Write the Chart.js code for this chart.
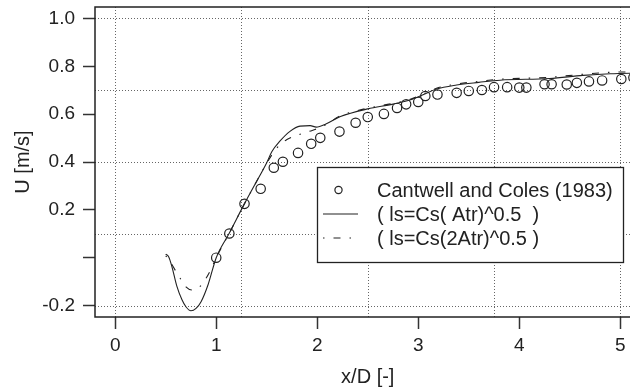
<!DOCTYPE html>
<html>
<head>
<meta charset="utf-8">
<script src="https://cdn.jsdelivr.net/npm/chart.js@4.4.0/dist/chart.umd.min.js"></script>
<style>
    html, body { margin: 0; padding: 0; background: #fff; overflow: hidden; }
    #wrap { width: 648px; height: 388px; }
</style>
</head>
<body>
<div id="wrap"><canvas id="chart" width="648" height="388"></canvas></div>
<script>
// Cantwell and Coles (1983) measurements
const expX = [1.00, 1.13, 1.28, 1.44, 1.57, 1.66, 1.81, 1.94, 2.03, 2.22, 2.38, 2.50, 2.66, 2.79, 2.88, 3.00, 3.07,
    3.19, 3.38, 3.50, 3.63, 3.75, 3.88, 4.00, 4.07, 4.25, 4.32, 4.47, 4.57, 4.69, 4.82, 5.01, 5.13];
const expY = [0.000, 0.101, 0.225, 0.288, 0.376, 0.401, 0.438, 0.476, 0.501, 0.527, 0.564, 0.588, 0.601, 0.626, 0.641,
    0.651, 0.676, 0.682, 0.689, 0.697, 0.701, 0.713, 0.713, 0.711, 0.711, 0.725, 0.725, 0.724, 0.731, 0.737, 0.741,
    0.747, 0.753];

// ( ls=Cs( Atr)^0.5 )
const solX = [0.50, 0.53, 0.56, 0.61, 0.66, 0.70, 0.75, 0.80, 0.85, 0.92, 1.00, 1.13, 1.28, 1.38, 1.50, 1.55, 1.63,
    1.73, 1.83, 1.93, 1.99, 2.09, 2.23, 2.50, 2.75, 2.94, 3.07, 3.18, 3.38, 3.60, 3.81, 4.30, 4.63, 4.90, 5.20];
const solY = [0.015, 0.003, -0.035, -0.119, -0.175, -0.205, -0.222, -0.212, -0.184, -0.112, 0.000, 0.103, 0.226,
    0.304, 0.397, 0.443, 0.487, 0.528, 0.550, 0.552, 0.546, 0.560, 0.590, 0.622, 0.642, 0.662, 0.685, 0.705, 0.722,
    0.733, 0.742, 0.749, 0.762, 0.769, 0.772];

// ( ls=Cs(2Atr)^0.5 )
const ddX = [0.50, 0.53, 0.57, 0.64, 0.70, 0.76, 0.82, 0.87, 0.94, 1.00, 1.13, 1.28, 1.38, 1.50, 1.60, 1.70, 1.83,
    1.95, 2.05, 2.23, 2.50, 2.75, 2.94, 3.07, 3.18, 3.38, 3.60, 3.81, 4.30, 4.63, 4.90, 5.20];
const ddY = [0.008, -0.005, -0.035, -0.084, -0.122, -0.135, -0.128, -0.105, -0.055, 0.000, 0.103, 0.226, 0.303,
    0.395, 0.458, 0.494, 0.516, 0.532, 0.548, 0.593, 0.625, 0.645, 0.665, 0.688, 0.708, 0.726, 0.737, 0.746, 0.754,
    0.767, 0.775, 0.777];

const xTicks = [0, 1, 2, 3, 4, 5];
const yTicks = [-0.2, 0, 0.2, 0.4, 0.6, 0.8, 1.0];
const gridX = [0, 1.25, 2.5, 3.75, 5];
const gridY = [-0.2, 0.1, 0.4, 0.7, 1.0];

const labels = ['Cantwell and Coles (1983)', '( ls=Cs( Atr)^0.5  )', '( ls=Cs(2Atr)^0.5 )'];

const INK = '#222';
const toPoints = (xs, ys) => xs.map((x, i) => ({ x: x, y: ys[i] }));

Chart.defaults.font.family = '"Liberation Sans", Arial, Helvetica, sans-serif';
Chart.defaults.color = INK;

// dotted grid at its own positions, plot frame and boxed legend
const decorations = {
    id: 'decorations',
    beforeDatasetsDraw(chart) {
        const { ctx, chartArea: a, scales: { x, y } } = chart;
        ctx.save();
        ctx.strokeStyle = '#666';
        ctx.lineWidth = 1;
        ctx.setLineDash([1, 2]);
        gridX.forEach(v => {
            const px = Math.round(x.getPixelForValue(v)) + 0.5;
            ctx.beginPath();
            ctx.moveTo(px, a.top);
            ctx.lineTo(px, a.bottom);
            ctx.stroke();
        });
        gridY.forEach(v => {
            const py = Math.round(y.getPixelForValue(v)) + 0.5;
            ctx.beginPath();
            ctx.moveTo(a.left, py);
            ctx.lineTo(a.right, py);
            ctx.stroke();
        });
        ctx.restore();
    },
    afterDatasetsDraw(chart) {
        const { ctx, chartArea: a } = chart;
        const ds = chart.data.datasets;
        ctx.save();

        // frame
        ctx.strokeStyle = INK;
        ctx.lineWidth = 1.5;
        ctx.strokeRect(a.left, a.top, a.right - a.left, a.bottom - a.top);

        // legend box
        const box = { left: 317.5, top: 167.5, right: 623.5, bottom: 262.5 };
        ctx.fillStyle = '#fff';
        ctx.fillRect(box.left, box.top, box.right - box.left, box.bottom - box.top);
        ctx.lineWidth = 1.3;
        ctx.strokeRect(box.left, box.top, box.right - box.left, box.bottom - box.top);

        const rows = [190, 214, 238];
        const symL = 323, symR = 358, textX = 377;

        // circle
        ctx.beginPath();
        ctx.lineWidth = 1.2;
        ctx.arc((symL + symR) / 2 - 2, rows[0], 3.6, 0, Math.PI * 2);
        ctx.stroke();

        // solid
        ctx.beginPath();
        ctx.lineWidth = ds[1].borderWidth;
        ctx.moveTo(symL, rows[1]);
        ctx.lineTo(symR, rows[1]);
        ctx.stroke();

        // dot-dash
        ctx.beginPath();
        ctx.lineWidth = ds[2].borderWidth;
        ctx.setLineDash(ds[2].borderDash);
        ctx.moveTo(symL, rows[2]);
        ctx.lineTo(symR, rows[2]);
        ctx.stroke();
        ctx.setLineDash([]);

        ctx.fillStyle = INK;
        ctx.font = '20px "Liberation Sans", Arial, sans-serif';
        ctx.textAlign = 'left';
        ctx.textBaseline = 'middle';
        ds.forEach((d, i) => ctx.fillText(d.label, textX, rows[i] + 1));

        ctx.restore();
    }
};

new Chart(document.getElementById('chart'), {
    type: 'scatter',
    data: {
        datasets: [{
            label: labels[0],
            data: toPoints(expX, expY),
            showLine: false,
            pointStyle: 'circle',
            pointRadius: 4.7,
            pointBorderWidth: 1.2,
            pointBorderColor: INK,
            pointBackgroundColor: 'rgba(0,0,0,0)'
        }, {
            label: labels[1],
            data: toPoints(solX, solY),
            showLine: true,
            pointRadius: 0,
            borderWidth: 1.1,
            borderColor: INK,
            cubicInterpolationMode: 'monotone'
        }, {
            label: labels[2],
            data: toPoints(ddX, ddY),
            showLine: true,
            pointRadius: 0,
            borderWidth: 1.1,
            borderColor: INK,
            borderDash: [1.5, 9, 7, 9],
            cubicInterpolationMode: 'monotone'
        }]
    },
    options: {
        responsive: false,
        animation: false,
        layout: { padding: { left: 0, right: 7.5, top: 7, bottom: 0 } },
        plugins: {
            legend: { display: false },
            tooltip: { enabled: false }
        },
        scales: {
            x: {
                type: 'linear',
                min: -0.2,
                max: 5.2,
                afterBuildTicks: axis => { axis.ticks = xTicks.map(v => ({ value: v })); },
                afterFit: axis => {
                    axis.height = 71;
                    axis.paddingLeft = 0;
                    axis.paddingRight = 0;
                },
                ticks: {
                    font: { size: 19 },
                    padding: 5,
                    maxRotation: 0,
                    callback: v => String(v)
                },
                grid: {
                    drawOnChartArea: false,
                    drawTicks: true,
                    tickLength: 12,
                    tickColor: '#333',
                    tickWidth: 1.5
                },
                border: { display: false },
                title: {
                    display: true,
                    text: 'x/D [-]',
                    font: { size: 20, lineHeight: 1 },
                    padding: { top: 0, bottom: 1 }
                }
            },
            y: {
                type: 'linear',
                min: -0.248,
                max: 1.048,
                afterBuildTicks: axis => { axis.ticks = yTicks.map(v => ({ value: v })); },
                afterFit: axis => {
                    axis.width = 95;
                    axis.paddingTop = 0;
                    axis.paddingBottom = 0;
                },
                ticks: {
                    font: { size: 19 },
                    padding: 8,
                    callback: v => (v === 0 ? '' : v.toFixed(1))
                },
                grid: {
                    drawOnChartArea: false,
                    drawTicks: true,
                    tickLength: 12,
                    tickColor: '#333',
                    tickWidth: 1.5
                },
                border: { display: false },
                title: {
                    display: true,
                    text: 'U [m/s]',
                    font: { size: 20, lineHeight: 1 },
                    padding: { top: 13, bottom: 0 }
                }
            }
        }
    },
    plugins: [decorations]
});
</script>
</body>
</html>
